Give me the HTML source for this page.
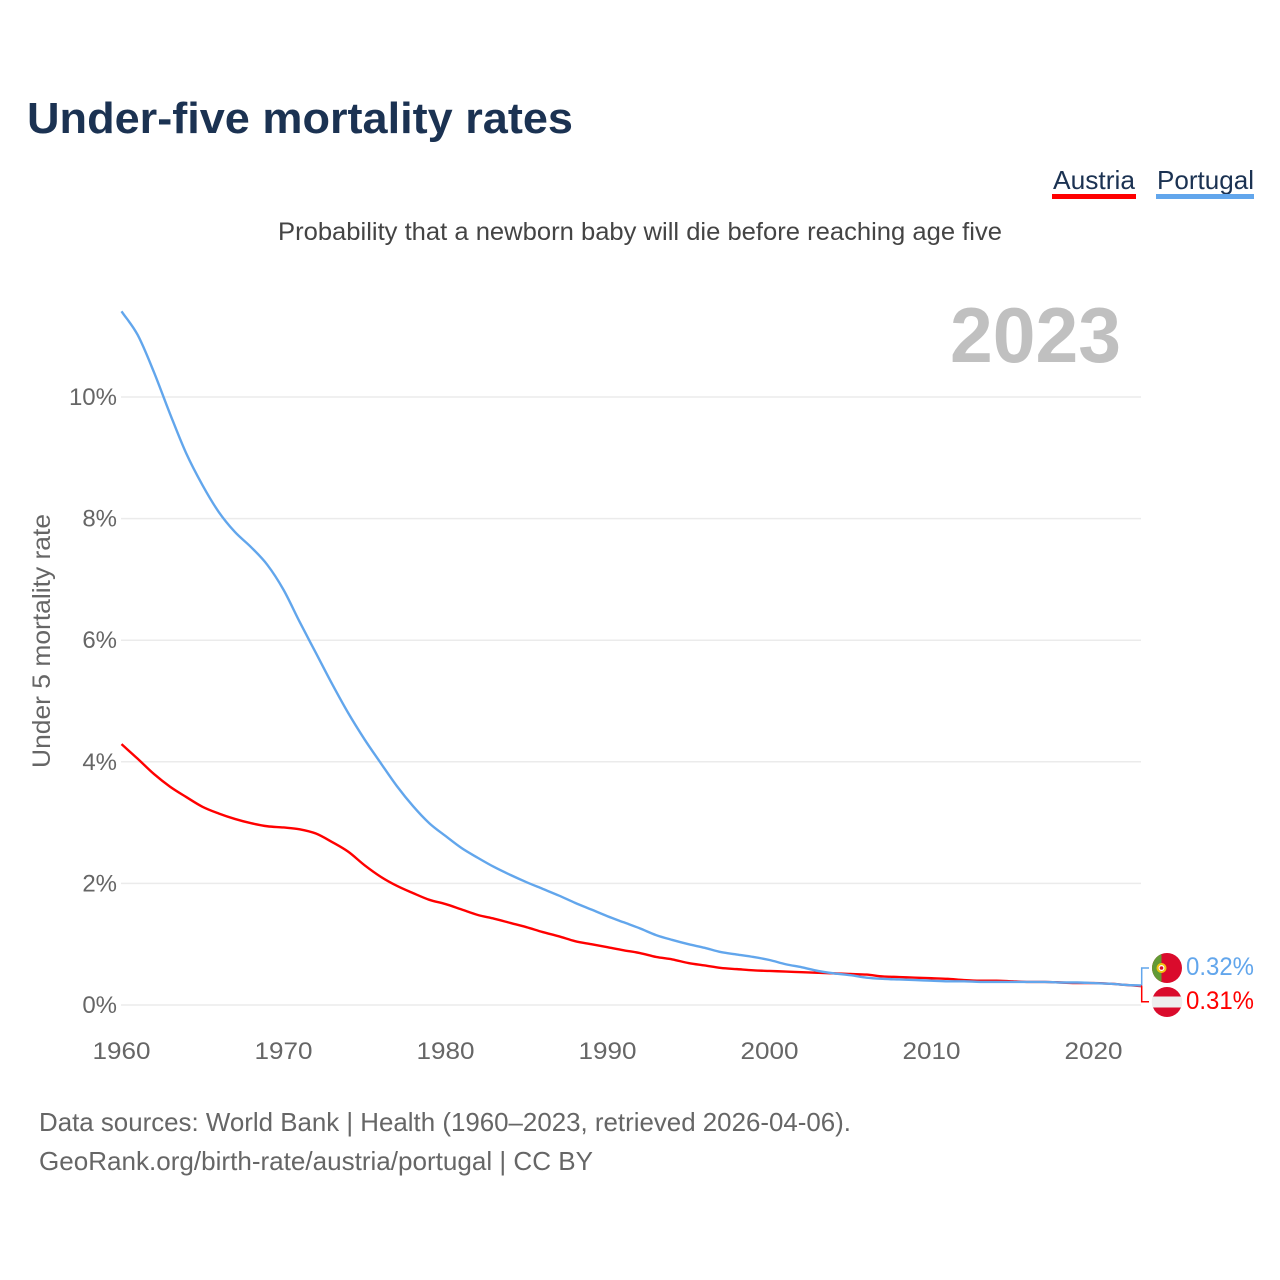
<!DOCTYPE html>
<html lang="en">
<head>
<meta charset="utf-8">
<title>Under-five mortality rates</title>
<style>
html,body{margin:0;padding:0;background:#fff;}
svg{display:block;}
text{font-family:"Liberation Sans",sans-serif;}
</style>
</head>
<body>
<svg id="chart" width="1280" height="1280" viewBox="0 0 1280 1280" xmlns="http://www.w3.org/2000/svg">
  <text x="27" y="133" font-size="44" font-weight="700" fill="#1b3252" textLength="546" lengthAdjust="spacingAndGlyphs">Under-five mortality rates</text>

  <g>
    <text x="1053" y="189" font-size="26" fill="#1b3252" textLength="82" lengthAdjust="spacingAndGlyphs">Austria</text>
    <rect x="1052" y="194" width="84" height="5" fill="#ff0000"/>
  </g>
  <g>
    <text x="1157" y="189" font-size="26" fill="#1b3252" textLength="97" lengthAdjust="spacingAndGlyphs">Portugal</text>
    <rect x="1156" y="194" width="98" height="5" fill="#62a6ec"/>
  </g>

  <text x="640" y="240" font-size="25" fill="#444444" text-anchor="middle" textLength="724" lengthAdjust="spacingAndGlyphs">Probability that a newborn baby will die before reaching age five</text>

  <text x="1121" y="362" font-size="78" font-weight="700" fill="#c0c0c0" text-anchor="end" textLength="171" lengthAdjust="spacingAndGlyphs">2023</text>

  <g id="grid"></g>
  <g id="yticks"></g>
  <g id="xticks"></g>

  <text transform="translate(50,641) rotate(-90)" font-size="25" fill="#666666" text-anchor="middle" textLength="254" lengthAdjust="spacingAndGlyphs">Under 5 mortality rate</text>

  <g id="series"></g>

  <g>
    <path id="connector-portugal" d="" fill="none" stroke="#62a6ec" stroke-width="1.5"/>
    <path id="connector-austria" d="" fill="none" stroke="#ff0000" stroke-width="1.5"/>

    <g>
      <circle cx="1167" cy="968" r="15" fill="#da0b2c"/>
      <path d="M1161.5 954.05A15 15 0 0 0 1161.5 981.95Z" fill="#629a35"/>
      <circle cx="1161.5" cy="968" r="4" fill="#ffffff" stroke="#f2c40f" stroke-width="2"/>
      <circle cx="1161.5" cy="968" r="1.8" fill="#da0b2c"/>
    </g>
    <g>
      <circle cx="1167" cy="1002" r="15" fill="#da0b2c"/>
      <path d="M1152.8 996.5H1181.2A15 15 0 0 1 1181.2 1007.5H1152.8A15 15 0 0 1 1152.8 996.5Z" fill="#eeeeee"/>
    </g>

    <text id="value-portugal" x="1186" y="975" font-size="25" fill="#62a6ec" textLength="68" lengthAdjust="spacingAndGlyphs"></text>
    <text id="value-austria" x="1186" y="1009" font-size="25" fill="#ff0000" textLength="68" lengthAdjust="spacingAndGlyphs"></text>
  </g>

  <text x="39" y="1131" font-size="26" fill="#666666" textLength="812" lengthAdjust="spacingAndGlyphs">Data sources: World Bank | Health (1960–2023, retrieved 2026-04-06).</text>
  <text x="39" y="1170" font-size="26" fill="#666666" textLength="554" lengthAdjust="spacingAndGlyphs">GeoRank.org/birth-rate/austria/portugal | CC BY</text>
</svg>
<script>
const firstYear = 1960;
const yTickValues = [0, 2, 4, 6, 8, 10];
const xTickValues = [1960, 1970, 1980, 1990, 2000, 2010, 2020];
const portugalValues = [11.41,11.02,10.41,9.72,9.07,8.55,8.11,7.78,7.53,7.24,6.83,6.30,5.79,5.28,4.80,4.37,3.98,3.60,3.27,2.99,2.78,2.58,2.42,2.27,2.14,2.02,1.91,1.80,1.68,1.57,1.46,1.36,1.26,1.15,1.07,1.00,0.94,0.87,0.83,0.79,0.74,0.67,0.62,0.56,0.52,0.49,0.45,0.43,0.42,0.41,0.40,0.39,0.39,0.38,0.38,0.38,0.38,0.38,0.37,0.37,0.36,0.35,0.33,0.32];
const austriaValues = [4.29,4.05,3.80,3.59,3.42,3.26,3.15,3.06,2.99,2.94,2.92,2.89,2.82,2.68,2.52,2.30,2.11,1.96,1.84,1.73,1.66,1.57,1.48,1.42,1.35,1.28,1.20,1.13,1.05,1.00,0.95,0.90,0.855,0.79,0.75,0.69,0.65,0.61,0.59,0.57,0.56,0.55,0.54,0.53,0.52,0.51,0.50,0.47,0.46,0.45,0.44,0.43,0.41,0.40,0.40,0.39,0.38,0.38,0.37,0.36,0.36,0.35,0.33,0.31];

const NS = 'http://www.w3.org/2000/svg';
function xScale(year) { return 121.5 + (year - firstYear) * 16.2; }
function yScale(v) { return 1005 - v * 60.8; }
function make(tag, attrs) {
  const el = document.createElementNS(NS, tag);
  for (const k in attrs) el.setAttribute(k, attrs[k]);
  return el;
}

const gridGroup = document.getElementById('grid');
const yGroup = document.getElementById('yticks');
yTickValues.forEach(function (v) {
  const line = make('line', {x1: 121, x2: 1141, y1: yScale(v), y2: yScale(v), stroke: '#ebebeb', 'stroke-width': 1.5});
  
  
  gridGroup.appendChild(line);
  const label = make('text', {x: 117, y: yScale(v) + 8, 'font-size': 24, fill: '#666666', 'text-anchor': 'end'});
  
  
  label.textContent = v + '%';
  yGroup.appendChild(label);
});

const xGroup = document.getElementById('xticks');
xTickValues.forEach(function (year) {
  const label = make('text', {x: xScale(year), y: 1059, 'font-size': 24, fill: '#666666', 'text-anchor': 'middle', textLength: 58, lengthAdjust: 'spacingAndGlyphs'});
  
  
  label.textContent = year;
  xGroup.appendChild(label);
});

/* Smooth monotone cubic through the data points */
function linePath(values) {
  const pts = values.map(function (v, i) { return [xScale(firstYear + i), yScale(v)]; });
  const n = pts.length;
  const slopes = [];
  for (let i = 0; i < n - 1; i++) slopes.push((pts[i + 1][1] - pts[i][1]) / (pts[i + 1][0] - pts[i][0]));
  const tangents = [slopes[0]];
  for (let i = 1; i < n - 1; i++) {
    tangents.push(slopes[i - 1] * slopes[i] <= 0 ? 0 : (slopes[i - 1] + slopes[i]) / 2);
  }
  tangents.push(slopes[n - 2]);
  let d = 'M' + pts[0][0].toFixed(2) + ' ' + pts[0][1].toFixed(2);
  for (let i = 0; i < n - 1; i++) {
    const h = (pts[i + 1][0] - pts[i][0]) / 3;
    d += 'C' + (pts[i][0] + h).toFixed(2) + ' ' + (pts[i][1] + tangents[i] * h).toFixed(2) + ' ' +
      (pts[i + 1][0] - h).toFixed(2) + ' ' + (pts[i + 1][1] - tangents[i + 1] * h).toFixed(2) + ' ' +
      pts[i + 1][0].toFixed(2) + ' ' + pts[i + 1][1].toFixed(2);
  }
  return d;
}
const seriesGroup = document.getElementById('series');
const austriaLine = make('path', {d: linePath(austriaValues), fill: 'none', stroke: '#ff0000', 'stroke-width': 2.4, 'stroke-linejoin': 'round'});


seriesGroup.appendChild(austriaLine);
const portugalLine = make('path', {d: linePath(portugalValues), fill: 'none', stroke: '#62a6ec', 'stroke-width': 2.4, 'stroke-linejoin': 'round'});


seriesGroup.appendChild(portugalLine);

const lastIndex = portugalValues.length - 1;
const endX = xScale(firstYear + lastIndex);
document.getElementById('connector-austria').setAttribute('d', 'M' + endX + ' ' + yScale(austriaValues[lastIndex]) + 'H1141.7V1001.7H1149');
document.getElementById('connector-portugal').setAttribute('d', 'M' + endX + ' ' + yScale(portugalValues[lastIndex]) + 'H1141.7V968H1149');
document.getElementById('value-portugal').textContent = portugalValues[lastIndex].toFixed(2) + '%';
document.getElementById('value-austria').textContent = austriaValues[lastIndex].toFixed(2) + '%';
</script>
</body>
</html>
